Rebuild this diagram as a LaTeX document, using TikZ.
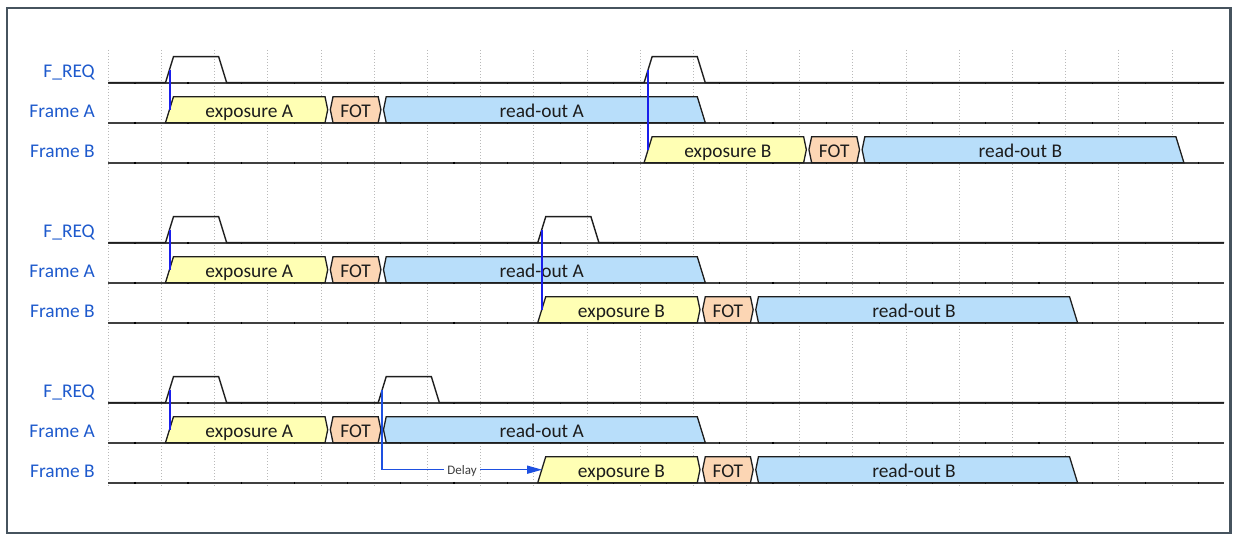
\documentclass[tikz,border=0pt]{standalone}
\usepackage{fontspec}
\setmainfont{Carlito}
\usetikzlibrary{arrows.meta}

\definecolor{lblblue}{RGB}{30,90,205}
\definecolor{expfill}{RGB}{255,255,180}
\definecolor{fotfill}{RGB}{252,214,180}
\definecolor{rofill}{RGB}{184,222,250}
\definecolor{trigblue}{RGB}{25,30,235}
\definecolor{delayblue}{RGB}{30,80,225}
\definecolor{framegray}{RGB}{70,83,94}
\definecolor{gridgray}{RGB}{185,185,185}
\definecolor{sigline}{RGB}{30,30,30}
\definecolor{txtdark}{RGB}{28,28,28}

\tikzset{
  gridline/.style={gridgray,line width=0.8pt,dash pattern=on 1pt off 2pt},
  sigpath/.style={sigline,line width=1.4pt,line join=miter},
  baseline/.style={sigline!85!white,line width=1.7pt},
  tickmark/.style={black,line width=1.2pt},
  segline/.style={sigline,line width=1.3pt,line join=miter},
  lbl/.style={text=lblblue,font=\fontsize{19.4}{23}\selectfont,inner sep=0pt},
  segtxt/.style={text=txtdark,font=\fontsize{19.4}{23}\selectfont,inner sep=0pt},
  trig/.style={draw=trigblue,line width=1.6pt},
  delayline/.style={draw=delayblue,line width=1.5pt},
  delaytxt/.style={fill=white,text=txtdark!85!white,font=\fontsize{13}{15}\selectfont,
    inner xsep=3.5pt,inner ysep=1pt,text height=8.7pt,text depth=0pt},
}

% F_REQ line: #1 base y, #2 step of the second pulse, #3 name prefix
\newcommand\freqrow[3]{%
  \pgfmathsetmacro\fa{116.3+53.18*1}%
  \pgfmathsetmacro\fb{116.3+53.18*2}%
  \pgfmathsetmacro\fc{116.3+53.18*(#2)}%
  \pgfmathsetmacro\fd{116.3+53.18*(#2+1)}%
  \pgfmathsetmacro\far{round(\fa+0.3)}%
  \pgfmathsetmacro\fcr{round(\fc)}%
  \pgfmathsetmacro\fbase{#1}%
  \pgfmathsetmacro\ftop{#1-26}%
  \draw[sigpath] (108.3,\fbase) -- (\fa-4,\fbase) -- (\fa+4,\ftop) -- (\fb-4,\ftop)
    -- (\fb+4,\fbase) -- (\fc-4,\fbase) -- (\fc+4,\ftop) -- (\fd-4,\ftop)
    -- (\fd+4,\fbase) -- (1224,\fbase);
  \coordinate (#3p1) at (\far,\fbase-13);
  \coordinate (#3p2) at (\fcr,\fbase-13);
}

% one frame: exposure, FOT, read-out; #1 base y, #2 start step, #3 letter, #4 name prefix
\newcommand\framerow[4]{%
  \pgfmathsetmacro\sa{116.3+53.18*(#2)}%
  \pgfmathsetmacro\sb{116.3+53.18*(#2+3)}%
  \pgfmathsetmacro\sc{116.3+53.18*(#2+4)}%
  \pgfmathsetmacro\sd{116.3+53.18*(#2+10)}%
  \pgfmathsetmacro\yb{#1}%
  \pgfmathsetmacro\yt{#1-26}%
  \pgfmathsetmacro\ym{#1-13}%
  \draw[segline,fill=expfill] (\sa-4,\yb) -- (\sa+4,\yt) -- (\sb-4,\yt)
    -- (\sb-1.3,\ym) -- (\sb-4,\yb) -- cycle;
  \draw[segline,fill=fotfill] (\sb+4,\yb) -- (\sb+1.3,\ym) -- (\sb+4,\yt)
    -- (\sc-4,\yt) -- (\sc-1.3,\ym) -- (\sc-4,\yb) -- cycle;
  \draw[segline,fill=rofill] (\sc+4,\yb) -- (\sc+1.3,\ym) -- (\sc+4,\yt)
    -- (\sd-4,\yt) -- (\sd+4,\yb) -- cycle;
  \node[segtxt,anchor=base] (#4exp) at ({(\sa+\sb)/2},\yb-5.4) {exposure #3};
  \node[segtxt,anchor=base] (#4fot) at ({(\sb+\sc)/2},\yb-5.4) {FOT};
  \node[segtxt,anchor=base] (#4ro) at ({(\sc+\sd)/2},\yb-5.4) {read-out #3};
  \coordinate (#4start) at (\sa+0.4,\ym);
}

% baseline with small half-step marks
\newcommand\baseline[1]{%
  \draw[baseline] (108.3,#1) -- (1224,#1);
  \foreach \k in {0,...,20} {
    \draw[tickmark] ({134.9+53.18*\k},#1-0.9) -- ({134.9+53.18*\k},#1+0.9);
  }
}

\begin{document}
\begin{tikzpicture}[x=1pt,y=-1pt]
\useasboundingbox (0,0) rectangle (1237,534);

% dotted time grid
\foreach \k in {0,...,20} {
  \draw[gridline] ({108.3+53.18*\k},50) -- ({108.3+53.18*\k},487);
}

% ---- row labels and baselines for the three scenarios ----
\foreach \s/\nm in {0/a,1/b,2/c} {
  \pgfmathsetmacro\off{160*\s}
  \node[lbl,anchor=base east] (\nm lreq) at (95,77.3+\off) {F\_REQ};
  \node[lbl,anchor=base east] (\nm lfa) at (95,117.3+\off) {Frame A};
  \node[lbl,anchor=base east] (\nm lfb) at (95,157.3+\off) {Frame B};
  \baseline{82.7+\off}
  \baseline{122.7+\off}
  \baseline{162.7+\off}
}

% ---- scenario 1: second request after read-out ----
\freqrow{82.7}{10}{ar}
\framerow{122.7}{1}{A}{afa}
\framerow{162.7}{10}{B}{afb}
\draw[trig] (arp1) -- (arp1 |- afastart);
\draw[trig] (arp2) -- (arp2 |- afbstart);

% ---- scenario 2: second request during read-out ----
\freqrow{242.7}{8}{br}
\framerow{282.7}{1}{A}{bfa}
\framerow{322.7}{8}{B}{bfb}
\draw[trig] (brp1) -- (brp1 |- bfastart);
\draw[trig] (brp2) -- (brp2 |- bfbstart);

% ---- scenario 3: early request, delayed exposure ----
\freqrow{402.7}{5}{cr}
\framerow{442.7}{1}{A}{cfa}
\framerow{482.7}{8}{B}{cfb}
\draw[trig] (crp1) -- (crp1 |- cfastart);
\draw[delayline,-{Triangle[length=15pt,width=8pt]}] (crp2) -- (crp2 |- cfbstart)
  -- node[delaytxt] (cdelay) {Delay} (cfbstart);

% outer frame
\draw[framegray,line width=2.5pt] (7,7.8) rectangle (1230.3,532.8);
\end{tikzpicture}
\end{document}
